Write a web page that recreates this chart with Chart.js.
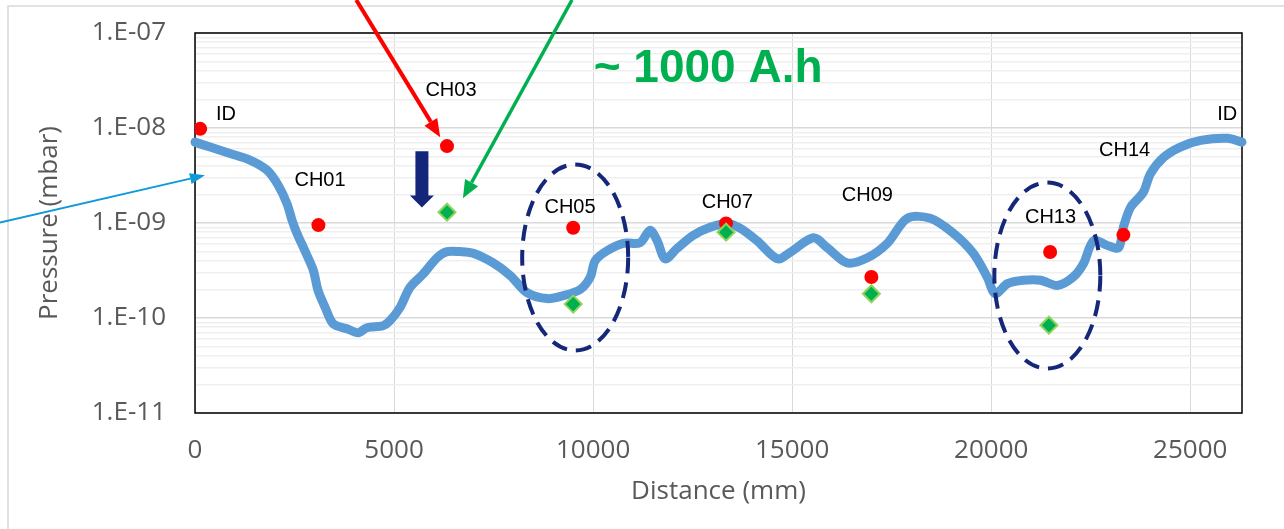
<!DOCTYPE html>
<html>
<head>
<meta charset="utf-8">
<script src="https://cdn.jsdelivr.net/npm/chart.js@4.4.1/dist/chart.umd.min.js"></script>
<style>
  html, body { margin: 0; padding: 0; background: #fff; }
</style>
</head>
<body>
<canvas id="myChart" width="1284" height="529"></canvas>
<script>
// pressure profile along the beam line (mm, mbar)
const distance = [0, 380, 880, 1380, 1810, 2090, 2310, 2440, 2560, 2760, 2970, 3090, 3270, 3470, 3820, 4100, 4320, 4720, 4900,
  5150, 5400, 5730, 6080, 6330, 6660, 6990, 7490, 7920, 8340, 8850, 9250, 9680, 9930, 10050, 10350, 10760, 11180, 11430,
  11610, 11810, 12110, 12510, 12940, 13370, 13700, 14120, 14630, 14950, 15530, 15880, 16380, 16890, 17390, 17890, 18470,
  19050, 19550, 19900, 20100, 20410, 20810, 21240, 21660, 22060, 22320, 22570, 22920, 23200, 23320, 23500, 23820, 24000,
  24330, 24750, 25260, 25930, 26300];
const pressure = [7.1e-9, 6.3e-9, 5.4e-9, 4.6e-9, 3.6e-9, 2.5e-9, 1.6e-9, 1.06e-9, 7.8e-10, 5.1e-10, 3.2e-10, 1.95e-10, 1.29e-10,
  8.7e-11, 7.7e-11, 7.0e-11, 7.9e-11, 8.3e-11, 9.4e-11, 1.29e-10, 2.1e-10, 2.9e-10, 4.3e-10, 5.0e-10, 5.0e-10, 4.8e-10,
  3.8e-10, 2.8e-10, 1.85e-10, 1.6e-10, 1.72e-10, 2.0e-10, 2.7e-10, 4.0e-10, 5.1e-10, 6.1e-10, 6.2e-10, 8.4e-10, 6.5e-10,
  4.2e-10, 5.4e-10, 7.4e-10, 9.0e-10, 9.9e-10, 8.8e-10, 6.5e-10, 4.2e-10, 4.9e-10, 7.0e-10, 5.5e-10, 3.8e-10, 4.3e-10,
  6.1e-10, 1.12e-9, 1.12e-9, 7.8e-10, 4.8e-10, 2.7e-10, 1.8e-10, 2.3e-10, 2.5e-10, 2.5e-10, 2.2e-10, 2.7e-10, 3.75e-10,
  6.5e-10, 5.8e-10, 5.5e-10, 9.0e-10, 1.46e-9, 2.1e-9, 3.3e-9, 4.9e-9, 6.3e-9, 7.4e-9, 7.8e-9, 7.1e-9];

// gauge readings
const gaugeDistance = [130, 3100, 6330, 9500, 13340, 16990, 21480, 23320];
const gaugeBefore = [9.8e-9, 9.5e-10, 6.45e-9, 8.9e-10, 9.9e-10, 2.7e-10, 4.95e-10, 7.5e-10];
const gaugeAfterDistance = [6330, 9500, 13340, 16990, 21450];
const gaugeAfter = [1.3e-9, 1.4e-10, 8.0e-10, 1.8e-10, 8.4e-11];

// gauge names and where they are written
const labelText = ["ID", "CH01", "CH03", "CH05", "CH07", "CH09", "CH13", "CH14", "ID"];
const labelX = [780, 3140, 6430, 9420, 13370, 16890, 21490, 23350, 25930];
const labelY = [1.21e-8, 2.43e-9, 2.16e-8, 1.26e-9, 1.43e-9, 1.69e-9, 1.01e-9, 5.04e-9, 1.21e-8];

const yTicks = [1e-11, 1e-10, 1e-9, 1e-8, 1e-7];
const xTicks = [0, 5000, 10000, 15000, 20000, 25000];
const xMin = 0, xMax = 26300;

const isDecade = v => Math.abs(Math.log10(v) - Math.round(Math.log10(v))) < 1e-6;
const tickFont = { family: "Open Sans", size: 26, lineHeight: 1.2 };

const drawArrow = (ctx, x1, y1, x2, y2, color, width, headLen, headW) => {
  const ang = Math.atan2(y2 - y1, x2 - x1);
  const bx = x2 - headLen * Math.cos(ang), by = y2 - headLen * Math.sin(ang);
  ctx.save();
  ctx.strokeStyle = color;
  ctx.fillStyle = color;
  ctx.lineWidth = width;
  ctx.beginPath();
  ctx.moveTo(x1, y1);
  ctx.lineTo(bx, by);
  ctx.stroke();
  ctx.beginPath();
  ctx.moveTo(x2, y2);
  ctx.lineTo(bx + headW / 2 * Math.sin(ang), by - headW / 2 * Math.cos(ang));
  ctx.lineTo(bx - headW / 2 * Math.sin(ang), by + headW / 2 * Math.cos(ang));
  ctx.closePath();
  ctx.fill();
  ctx.restore();
};

const decorations = {
  id: "decorations",
  beforeDraw(chart) {
    const ctx = chart.ctx;
    ctx.save();
    ctx.strokeStyle = "#D9D9D9";
    ctx.lineWidth = 1.5;
    ctx.strokeRect(8, 6, chart.width + 20, chart.height + 20);
    ctx.restore();
  },
  beforeDatasetsDraw(chart) {
    const { ctx, chartArea: a } = chart;
    ctx.save();
    ctx.strokeStyle = "#000";
    ctx.lineWidth = 1.5;
    ctx.strokeRect(a.left, a.top, a.right - a.left, a.bottom - a.top);
    ctx.restore();
  },
  afterDatasetsDraw(chart) {
    const ctx = chart.ctx;
    const x = chart.scales.x, y = chart.scales.y;
    const px = v => x.getPixelForValue(v);
    const py = v => y.getPixelForValue(v);

    // gauge names
    ctx.save();
    ctx.fillStyle = "#000";
    ctx.font = "20px 'Liberation Sans', Arial";
    ctx.textAlign = "center";
    ctx.textBaseline = "alphabetic";
    labelText.forEach((t, i) => ctx.fillText(t, px(labelX[i]), py(labelY[i])));

    // "~ 1000 A.h"
    ctx.fillStyle = "#00B050";
    ctx.font = "bold 46px 'Liberation Sans', Arial";
    ctx.fillText("~ 1000 A.h", px(12890), py(3.04e-8));
    ctx.restore();

    // dashed ellipses
    ctx.save();
    ctx.strokeStyle = "#152778";
    ctx.lineWidth = 4;
    ctx.setLineDash([16, 9]);
    [[9550, 4.34e-10], [21410, 2.8e-10]].forEach(([cx, cy]) => {
      ctx.beginPath();
      ctx.ellipse(px(cx), py(cy), 53, 93, 0, 0, Math.PI * 2);
      ctx.stroke();
    });
    ctx.restore();

    // arrows
    drawArrow(ctx, px(4050), py(2.23e-7), px(6160), py(8.0e-9), "#FF0000", 4, 18, 15);
    drawArrow(ctx, px(9470), py(2.23e-7), px(6730), py(1.82e-9), "#00B050", 3.5, 18, 15);
    drawArrow(ctx, px(-4900), py(1.01e-9), px(250), py(3.18e-9), "#0E9AD7", 2, 15, 11);

    // block arrow pointing down
    const ax = px(5700), top = py(5.69e-9), neck = py(1.95e-9), tip = py(1.46e-9);
    ctx.save();
    ctx.fillStyle = "#14267A";
    ctx.beginPath();
    ctx.moveTo(ax - 6.5, top);
    ctx.lineTo(ax + 6.5, top);
    ctx.lineTo(ax + 6.5, neck);
    ctx.lineTo(ax + 12, neck);
    ctx.lineTo(ax, tip);
    ctx.lineTo(ax - 12, neck);
    ctx.lineTo(ax - 6.5, neck);
    ctx.closePath();
    ctx.fill();
    ctx.restore();
  }
};

const ctx = document.getElementById("myChart");
const chart = new Chart(ctx, {
  type: "scatter",
  data: {
    datasets: [
      {
        label: "After",
        data: gaugeAfterDistance.map((d, i) => ({ x: d, y: gaugeAfter[i] })),
        pointStyle: "rectRot",
        pointRadius: 8.5,
        backgroundColor: "#00B050",
        borderColor: "#8ED45A",
        borderWidth: 2,
        order: 1
      },
      {
        label: "Before",
        data: gaugeDistance.map((d, i) => ({ x: d, y: gaugeBefore[i] })),
        pointStyle: "circle",
        pointRadius: 7,
        backgroundColor: "#FF0000",
        borderWidth: 0,
        order: 2
      },
      {
        label: "Profile",
        type: "line",
        data: distance.map((d, i) => ({ x: d, y: pressure[i] })),
        borderColor: "#5B9BD5",
        borderWidth: 9,
        pointRadius: 0,
        tension: 0.3,
        borderCapStyle: "round",
        borderJoinStyle: "round",
        clip: false,
        order: 3
      }
    ]
  },
  options: {
    responsive: false,
    devicePixelRatio: 1,
    animation: false,
    layout: { padding: { left: 0, top: 33, right: 42, bottom: 0 } },
    plugins: {
      legend: { display: false },
      tooltip: { enabled: false }
    },
    scales: {
      x: {
        type: "linear",
        min: xMin,
        max: xMax,
        afterBuildTicks: s => { s.ticks = xTicks.map(v => ({ value: v })); },
        afterFit: s => { s.height = 116; s.paddingLeft = 0; s.paddingRight = 0; },
        ticks: {
          autoSkip: false,
          padding: 22,
          color: "#595959",
          font: tickFont,
          maxRotation: 0,
          callback: v => String(v)
        },
        grid: { color: "#D9D9D9", lineWidth: 1, drawTicks: false },
        border: { display: false },
        title: {
          display: true,
          text: "Distance (mm)",
          color: "#595959",
          font: tickFont,
          padding: { top: 0, bottom: 22 }
        }
      },
      y: {
        type: "logarithmic",
        min: yTicks[0],
        max: yTicks[yTicks.length - 1],
        afterFit: s => { s.width = 195; s.paddingTop = 0; s.paddingBottom = 0; },
        afterBuildTicks: s => {
          const t = [];
          yTicks.forEach((d, i) => {
            if (i === yTicks.length - 1) { t.push({ value: d }); return; }
            for (let k = 1; k <= 9; k++) t.push({ value: k * d });
          });
          s.ticks = t;
        },
        ticks: {
          autoSkip: false,
          padding: 29,
          color: "#595959",
          font: tickFont,
          callback: v => {
            if (!isDecade(v)) return "";
            const e = Math.round(Math.log10(v));
            return "1.E" + (e < 0 ? "-" : "+") + String(Math.abs(e)).padStart(2, "0");
          }
        },
        grid: {
          drawTicks: false,
          color: c => (c.tick && isDecade(c.tick.value) ? "#D9D9D9" : "#EFEFEF"),
          lineWidth: 1.5
        },
        border: { display: false },
        title: {
          display: true,
          text: "Pressure (mbar)",
          color: "#595959",
          font: tickFont,
          padding: { top: 34, bottom: 0 }
        }
      }
    }
  },
  plugins: [decorations]
});
</script>
</body>
</html>
